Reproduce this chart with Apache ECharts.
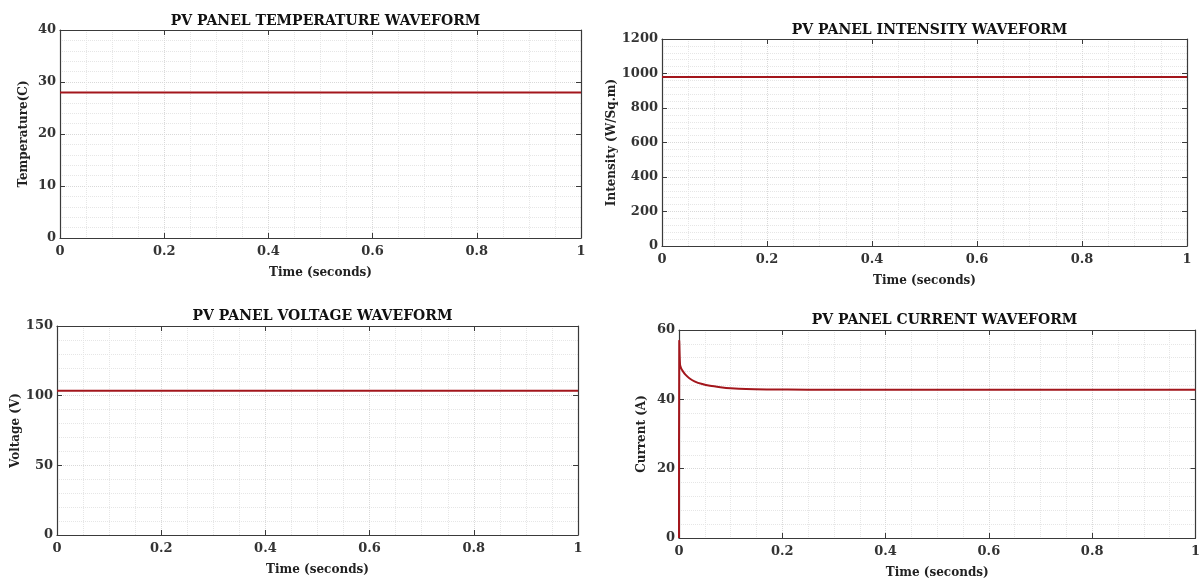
<!DOCTYPE html>
<html>
<head>
<meta charset="utf-8">
<script src="https://cdn.jsdelivr.net/npm/echarts@6/dist/echarts.min.js"></script>
<style>
  html, body { margin: 0; padding: 0; background: #fff; }
  #main { width: 1203px; height: 584px; }
</style>
</head>
<body>
<div id="main"></div>
<script>
// data
const flatTime = [0, 1];
const temperature = [28, 28];
const intensity = [980, 980];
const voltage = [103.5, 103.5];
const currentTime = [0, 0.0005, 0.002, 0.004, 0.007, 0.012, 0.02, 0.03, 0.045, 0.06, 0.08, 0.1, 0.13, 0.17, 0.25, 0.4, 1];
const current = [0, 57, 50, 49.0, 48.2, 47.2, 46.1, 45.2, 44.4, 43.9, 43.5, 43.2, 42.95, 42.85, 42.8, 42.8, 42.8];

const panels = [
  { title: 'PV PANEL TEMPERATURE WAVEFORM', yName: 'Temperature(C)', yMax: 40, yStep: 10,
    x: flatTime, y: temperature, box: [60, 30, 581, 238], titleY: 9, nameGap: 30 },
  { title: 'PV PANEL INTENSITY WAVEFORM', yName: 'Intensity (W/Sq.m)', yMax: 1200, yStep: 200,
    x: flatTime, y: intensity, box: [662, 39, 1187, 246], titleY: 18, nameGap: 44 },
  { title: 'PV PANEL VOLTAGE WAVEFORM', yName: 'Voltage (V)', yMax: 150, yStep: 50,
    x: flatTime, y: voltage, box: [57, 326, 578, 535], titleY: 304, nameGap: 34 },
  { title: 'PV PANEL CURRENT WAVEFORM', yName: 'Current (A)', yMax: 60, yStep: 20,
    x: currentTime, y: current, box: [679, 330, 1200, 538], titleY: 308, nameGap: 31 }
];

const font = 'DejaVu Serif';
const axisColor = '#3a3a3a';
const W = 1203, H = 584;

const chart = echarts.init(document.getElementById('main'));
const grid = [], xAxis = [], yAxis = [], series = [], title = [];

panels.forEach((p, i) => {
  const [l, t, r, b] = p.box;
  grid.push({ left: l, top: t, right: W - r, bottom: H - b });
  title.push({
    text: p.title,
    left: (l + r) / 2, top: p.titleY, textAlign: 'center',
    textStyle: { fontFamily: font, fontWeight: 'bold', fontSize: 14, color: '#111' }
  });
  // bottom x axis
  xAxis.push({
    type: 'value', gridIndex: i, min: 0, max: 1, interval: 0.2,
    name: 'Time (seconds)', nameLocation: 'middle', nameGap: 29,
    nameTextStyle: { fontFamily: font, fontWeight: 'bold', fontSize: 12, color: '#222' },
    axisLine: { onZero: false, lineStyle: { color: axisColor, width: 1.2 } },
    axisTick: { inside: true, length: 5, lineStyle: { color: axisColor } },
    axisLabel: { margin: 7, fontFamily: font, fontWeight: 'bold', fontSize: 13, color: '#333' },
    splitLine: { show: true, lineStyle: { type: 'dotted', color: '#d9d9d9' } },
    minorTick: { show: false, splitNumber: 4 },
    minorSplitLine: { show: true, lineStyle: { type: 'dotted', color: '#e6e6e6' } }
  });
  // top x axis (box)
  xAxis.push({
    type: 'value', gridIndex: i, min: 0, max: 1, interval: 0.2, position: 'top',
    axisLine: { onZero: false, lineStyle: { color: axisColor, width: 1.2 } },
    axisTick: { inside: true, length: 5, lineStyle: { color: axisColor } },
    axisLabel: { show: false }, splitLine: { show: false }
  });
  // left y axis
  yAxis.push({
    type: 'value', gridIndex: i, min: 0, max: p.yMax, interval: p.yStep,
    name: p.yName, nameLocation: 'middle', nameGap: p.nameGap,
    nameTextStyle: { fontFamily: font, fontWeight: 'bold', fontSize: 12, color: '#222' },
    axisLine: { onZero: false, lineStyle: { color: axisColor, width: 1.2 } },
    axisTick: { inside: true, length: 5, lineStyle: { color: axisColor } },
    axisLabel: { margin: 4, fontFamily: font, fontWeight: 'bold', fontSize: 13, color: '#333',
      formatter: v => String(v) },
    splitLine: { show: true, lineStyle: { type: 'dotted', color: '#d9d9d9' } },
    minorTick: { show: false, splitNumber: 5 },
    minorSplitLine: { show: true, lineStyle: { type: 'dotted', color: '#e6e6e6' } }
  });
  // right y axis (box)
  yAxis.push({
    type: 'value', gridIndex: i, min: 0, max: p.yMax, interval: p.yStep, position: 'right',
    axisLine: { show: true, onZero: false, lineStyle: { color: axisColor, width: 1.2 } },
    axisTick: { show: true, inside: true, length: 5, lineStyle: { color: axisColor } },
    axisLabel: { show: false }, splitLine: { show: false }
  });
  series.push({
    type: 'line', xAxisIndex: i * 2, yAxisIndex: i * 2,
    data: p.x.map((tv, k) => [tv, p.y[k]]),
    symbol: 'none', smooth: i === 3 ? 0.3 : false,
    lineStyle: { color: '#a3161c', width: 2 },
    z: 5
  });
});

chart.setOption({
  animation: false,
  backgroundColor: '#fff',
  title, grid, xAxis, yAxis, series
});
</script>
</body>
</html>
